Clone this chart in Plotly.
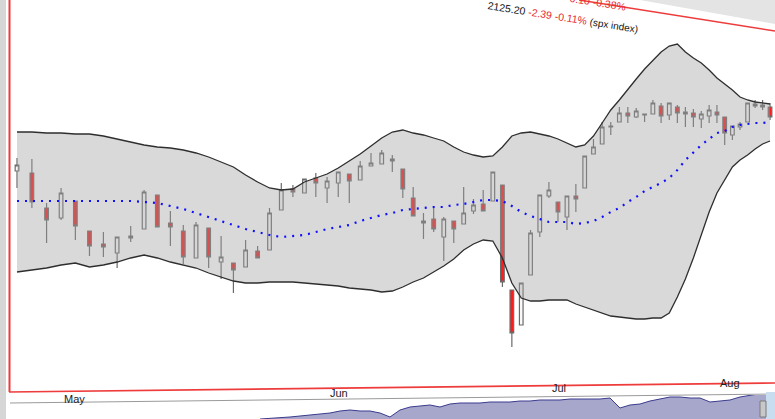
import math
import pandas as pd
import plotly.graph_objects as go

# ---------------- data (S&P 500 daily candles, Apr 27 - Aug 10 2016 view) ----------------
all_days = pd.bdate_range("2016-04-27", "2016-08-10")
holidays = [pd.Timestamp("2016-05-30"), pd.Timestamp("2016-07-04")]
dates = [d for d in all_days if d not in holidays]

opens = [2129, 2127, 2092, 2082, 2099, 2069, 2056, 2047, 2062, 2071,
         2105, 2077, 2069, 2042, 2072, 2038, 2037, 2033, 2049, 2050,
         2090, 2111, 2107, 2122, 2112, 2117, 2126, 2120, 2134, 2136,
         2141, 2131, 2102, 2079, 2081, 2063, 2079, 2076, 2089, 2096,
         2099, 2115, 2010, 1975, 2025, 2068, 2104, 2098, 2083, 2104,
         2112, 2146, 2156, 2174, 2178, 2187, 2183, 2185, 2186, 2194,
         2185, 2193, 2186, 2187, 2181, 2184, 2188, 2183, 2165, 2173,
         2178, 2196, 2195, 2193]
highs = [2142, 2141, 2097, 2112, 2099, 2069, 2068, 2063, 2074, 2110,
         2105, 2089, 2075, 2078, 2072, 2064, 2037, 2060, 2054, 2092,
         2117, 2115, 2121, 2127, 2123, 2128, 2126, 2139, 2147, 2150,
         2145, 2131, 2113, 2087, 2092, 2083, 2079, 2113, 2101, 2110,
         2128, 2115, 2010, 2017, 2070, 2105, 2118, 2098, 2104, 2116,
         2144, 2161, 2178, 2178, 2193, 2193, 2192, 2186, 2200, 2197,
         2197, 2195, 2193, 2191, 2189, 2195, 2195, 2183, 2174, 2178,
         2197, 2200, 2200, 2197]
lows = [2112, 2092, 2057, 2080, 2060, 2044, 2043, 2032, 2058, 2071,
        2073, 2054, 2036, 2042, 2032, 2021, 2007, 2033, 2042, 2050,
        2090, 2103, 2107, 2103, 2097, 2103, 2097, 2120, 2134, 2136,
        2128, 2102, 2084, 2061, 2068, 2039, 2057, 2076, 2086, 2089,
        2099, 2013, 1953, 1975, 2025, 2063, 2102, 2078, 2070, 2088,
        2112, 2146, 2156, 2165, 2178, 2177, 2182, 2178, 2186, 2177,
        2180, 2177, 2173, 2173, 2172, 2177, 2177, 2155, 2160, 2170,
        2178, 2192, 2190, 2180]
closes = [2135, 2098, 2080, 2107, 2074, 2054, 2053, 2063, 2064, 2108,
          2073, 2073, 2043, 2075, 2043, 2043, 2030, 2050, 2042, 2087,
          2110, 2108, 2121, 2117, 2119, 2128, 2119, 2134, 2137, 2147,
          2139, 2111, 2084, 2077, 2071, 2081, 2071, 2087, 2095, 2089,
          2128, 2018, 1967, 2017, 2067, 2105, 2110, 2088, 2104, 2101,
          2144, 2153, 2173, 2173, 2187, 2184, 2189, 2186, 2197, 2184,
          2197, 2187, 2188, 2183, 2186, 2190, 2185, 2167, 2174, 2176,
          2197, 2194, 2193, 2183]

# Bollinger bands as drawn on the chart
band_upper = [2168, 2168, 2167, 2167, 2166, 2166, 2164, 2161, 2158, 2155,
              2153, 2152, 2150, 2147, 2143, 2138, 2133, 2125, 2118, 2112,
              2110, 2111, 2118, 2122, 2126, 2132, 2139, 2146, 2154, 2162,
              2168, 2170, 2167, 2165, 2162, 2159, 2153, 2148, 2145, 2143,
              2144, 2153, 2164, 2167, 2168, 2166, 2164, 2161, 2157, 2153,
              2155, 2164, 2177, 2190, 2200, 2210, 2221, 2231, 2240, 2248,
              2254, 2256, 2248, 2242, 2237, 2230, 2222, 2216, 2210, 2203,
              2200, 2198, 2197, 2196]
band_middle = [2099, 2099, 2099, 2099, 2099, 2099, 2099, 2099, 2099, 2098,
               2097, 2094, 2091, 2087, 2083, 2079, 2075, 2071, 2068, 2065,
               2063, 2064, 2065, 2068, 2071, 2073, 2075, 2079, 2082, 2085,
               2087, 2090, 2091, 2092, 2093, 2093, 2095, 2096, 2098, 2100,
               2100, 2099, 2094, 2088, 2084, 2081, 2078, 2078, 2078, 2076,
               2077, 2079, 2083, 2088, 2092, 2098, 2103, 2109, 2113, 2117,
               2122, 2130, 2140, 2148, 2155, 2161, 2167, 2169, 2173, 2175,
               2176, 2177, 2177, 2178]
band_lower = [2028, 2030, 2032, 2035, 2037, 2033, 2035, 2038, 2042, 2045,
              2042, 2038, 2035, 2032, 2027, 2023, 2019, 2017, 2017, 2018,
              2018, 2018, 2017, 2016, 2015, 2014, 2012, 2011, 2010, 2008,
              2009, 2013, 2018, 2022, 2028, 2034, 2041, 2050, 2056, 2060,
              2059, 2042, 2017, 2002, 1999, 1999, 2000, 2000, 2000, 1996,
              1993, 1990, 1987, 1984, 1983, 1982, 1981, 1981, 1982, 1982,
              1987, 2003, 2021, 2042, 2064, 2088, 2107, 2120, 2133, 2140,
              2145, 2151, 2156, 2159]

month_labels = ["May", "Jun", "Jul", "Aug"]

# overview navigator series (visible part, relative height)
nav_values = [0, 0.5, 1, 2, 3, 4, 5, 6, 8, 9, 8, 8, 6, 2, 9, 12, 13, 14, 12, 15,
              16, 16, 16, 17, 17, 17, 18, 18, 19, 19, 19, 20, 20, 20, 20, 21, 11, 14,
              15, 18, 20, 22, 22, 21, 21, 17, 18, 19, 22, 24, 26, 27]

header_text = ("2125.20 <span style='color:#e8262e'>-2.39 -0.11%</span> "
               "<span style='font-size:10px'>(spx index)</span>")
header_text2 = "<span style='color:#e8262e'>-0.10 -0.38%</span>"

# ---------------- figure ----------------
W, H = 775, 419
def px(x):
    return x / W
def py(y):
    return 1 - y / H

OFFSET = 70  # perspective of the photographed screen
xpos = [i + 1 + OFFSET for i in range(len(dates))]

fig = go.Figure()

# red candles (under the translucent band)
fig.add_trace(go.Candlestick(
    x=xpos, open=opens, high=highs, low=lows, close=closes,
    increasing=dict(fillcolor="rgba(0,0,0,0)", line=dict(color="rgba(0,0,0,0)", width=1)),
    decreasing=dict(fillcolor="#ff1c1c", line=dict(color="#6a6a6a", width=1.2)),
    whiskerwidth=0, hoverinfo="skip", showlegend=False))

# band fill
fig.add_trace(go.Scatter(
    x=xpos + xpos[::-1], y=band_upper + band_lower[::-1],
    fill="toself", fillcolor="rgba(160,160,160,0.40)", line=dict(width=0),
    mode="lines", hoverinfo="skip", showlegend=False))
fig.add_trace(go.Scatter(x=xpos, y=band_upper, mode="lines",
                         line=dict(color="#2e2e2e", width=1.3), hoverinfo="skip", showlegend=False))
fig.add_trace(go.Scatter(x=xpos, y=band_lower, mode="lines",
                         line=dict(color="#2e2e2e", width=1.3), hoverinfo="skip", showlegend=False))

# hollow candles (on top)
fig.add_trace(go.Candlestick(
    x=xpos, open=opens, high=highs, low=lows, close=closes,
    increasing=dict(fillcolor="#fbfbfb", line=dict(color="#6a6a6a", width=1.2)),
    decreasing=dict(fillcolor="rgba(0,0,0,0)", line=dict(color="rgba(0,0,0,0)", width=1)),
    whiskerwidth=0, hoverinfo="skip", showlegend=False))

# middle band
fig.add_trace(go.Scatter(x=xpos, y=band_middle, mode="lines",
                         line=dict(color="#1010ff", width=2.2, dash="2px,6px"),
                         hoverinfo="skip", showlegend=False))

# navigator
nav_x = list(range(len(nav_values)))
fig.add_trace(go.Scatter(x=nav_x, y=nav_values, mode="lines", fill="tozeroy",
                         fillcolor="#a7a7cc", line=dict(color="#3b3b8e", width=1),
                         xaxis="x2", yaxis="y2", hoverinfo="skip", showlegend=False))

x0_log = math.log10(1 + OFFSET) - 7 / 2452
x1_log = math.log10(1 + OFFSET) + 758 / 2452

fig.update_layout(
    width=W, height=H, margin=dict(l=0, r=0, t=0, b=0),
    paper_bgcolor="white", plot_bgcolor="rgba(0,0,0,0)",
    xaxis=dict(type="log", domain=[px(10), 1], range=[x0_log, x1_log], visible=False,
               rangeslider=dict(visible=False), fixedrange=True),
    yaxis=dict(domain=[py(392), 1], range=[2300 - 392, 2300], visible=False),
    xaxis2=dict(domain=[px(10), 1], range=[-25, 51.5], visible=False, anchor="y2"),
    yaxis2=dict(domain=[0, 24 / H], range=[0, 24], visible=False, anchor="x2"),
    showlegend=False,
    font=dict(family="Liberation Sans, Arial, sans-serif", size=11, color="#222"),
)

shapes = []
# left chrome
shapes.append(dict(type="rect", xref="paper", yref="paper", x0=0, x1=px(6), y0=0, y1=1,
                   fillcolor="#d6d6d6", line=dict(width=0), layer="above"))
shapes.append(dict(type="line", xref="paper", yref="paper", x0=px(9.5), x1=px(9.5), y0=py(392), y1=1,
                   line=dict(color="#ee3b3b", width=2), layer="above"))
# bottom red frame line (slanted like the photo)
shapes.append(dict(type="line", xref="paper", yref="paper", x0=px(9), x1=px(775), y0=py(392), y1=py(383),
                   line=dict(color="#ee3b3b", width=1.6), layer="above"))
# separator above navigator
shapes.append(dict(type="line", xref="paper", yref="paper", x0=px(10), x1=px(775), y0=py(403), y1=py(394),
                   line=dict(color="#9a9a9a", width=1), layer="above"))
# top-right header bar and red frame
shapes.append(dict(type="path", xref="paper", yref="paper",
                   path=f"M {px(640)},{py(0)} L {px(775)},{py(0)} L {px(775)},{py(24)} Z",
                   fillcolor="#e4e4e4", line=dict(width=0), layer="above"))
shapes.append(dict(type="line", xref="paper", yref="paper", x0=px(579), x1=px(775), y0=py(0), y1=py(31),
                   line=dict(color="#ee3b3b", width=1.5), layer="above"))
# navigator handle
shapes.append(dict(type="rect", xref="paper", yref="paper", x0=px(766), x1=1, y0=0, y1=py(392),
                   fillcolor="#c9ddf1", line=dict(width=0), layer="above"))
shapes.append(dict(type="rect", xref="paper", yref="paper", x0=px(760), x1=px(766), y0=py(417), y1=py(401),
                   fillcolor="#c8c8c8", line=dict(color="#7a7a7a", width=1), layer="above"))

annotations = []
# month labels at the first session of each month
month_starts = []
for i, d in enumerate(dates):
    if i > 0 and d.month != dates[i - 1].month:
        month_starts.append(i)
label_y = [399, 393, 388, 383]
for k, (idx, lab) in enumerate(zip(month_starts, month_labels)):
    lx = math.log10(xpos[idx])
    shapes.append(dict(type="line", xref="x", yref="paper", x0=lx, x1=lx,
                       y0=py(label_y[k] - 6), y1=py(label_y[k] - 2),
                       line=dict(color="#444", width=1), layer="above"))
    annotations.append(dict(x=lx, xref="x", y=py(label_y[k]), yref="paper", text=lab,
                            showarrow=False, xanchor="left", yanchor="middle", xshift=1,
                            font=dict(size=11, color="#222")))

annotations.append(dict(x=px(563), y=py(17), xref="paper", yref="paper", text=header_text,
                        showarrow=False, textangle=9, font=dict(size=10.5, color="#111"),
                        xanchor="center", yanchor="middle"))
annotations.append(dict(x=px(596), y=py(2), xref="paper", yref="paper", text=header_text2,
                        showarrow=False, textangle=9, font=dict(size=10.5, color="#111"),
                        xanchor="center", yanchor="middle"))

fig.update_layout(shapes=shapes, annotations=annotations)

fig.write_html("out.html", config={"displayModeBar": False},
               post_script="document.body.style.margin='0';document.body.style.padding='0';"
                           "document.body.style.overflow='hidden';")
